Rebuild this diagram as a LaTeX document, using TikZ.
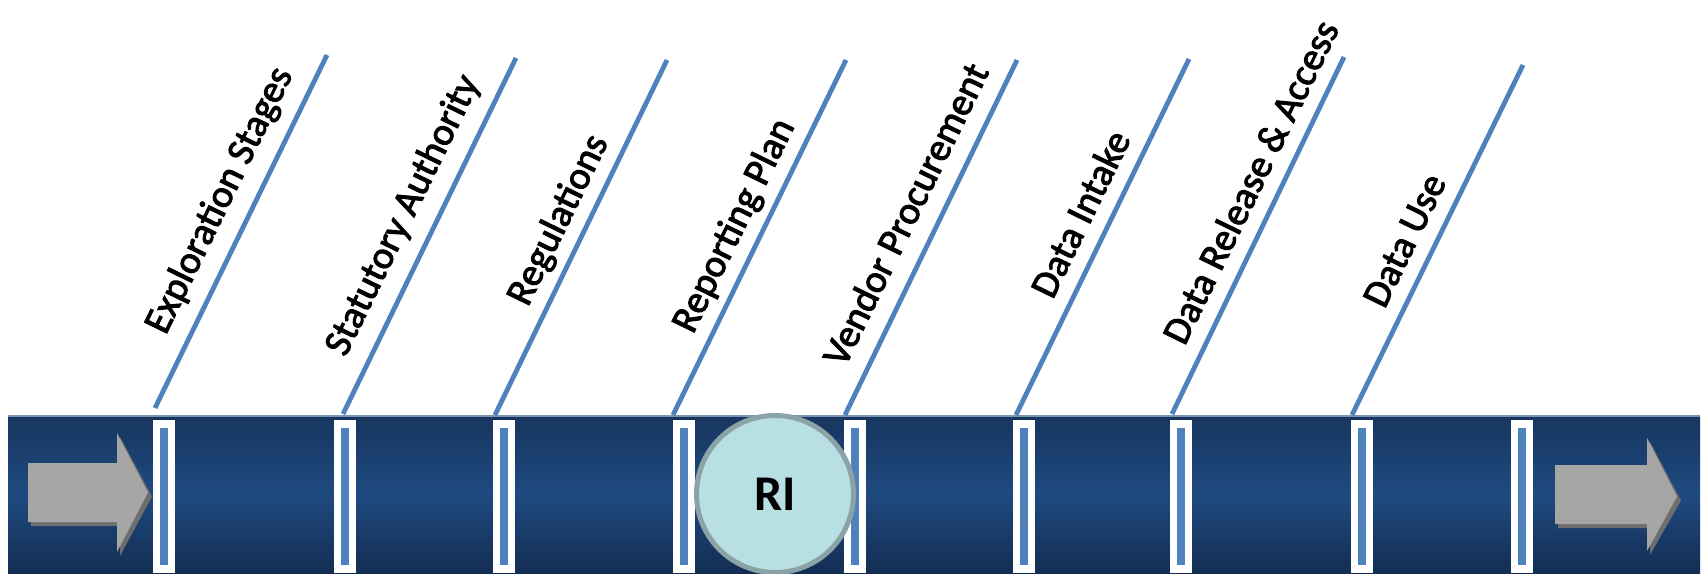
\documentclass[tikz,border=0pt]{standalone}
\usepackage{fontspec}
\setmainfont{Carlito}
\newfontfamily\lblfont[FakeBold=2.5]{Carlito}
\usetikzlibrary{calc}
\definecolor{barmid}{HTML}{1F4A80}
\definecolor{bartop}{HTML}{17365F}
\definecolor{barbot}{HTML}{132D52}
\definecolor{baredge}{HTML}{7D93B3}
\definecolor{stageblue}{HTML}{4F81BD}
\definecolor{arrowgray}{HTML}{A6A6A6}
\definecolor{arrowshadow}{HTML}{6E6E6E}
\definecolor{rifill}{HTML}{B8DFE3}
\definecolor{riborder}{HTML}{8BA3A6}
\begin{document}
\begin{tikzpicture}[x=1pt,y=-1pt,
  stageline/.style={draw=stageblue, line width=4.8pt},
  lbl/.style={font=\lblfont\fontsize{39}{39}\selectfont, anchor=base, rotate=64, inner sep=0pt, text=black},
  sepouter/.style={fill=white, draw=none, rectangle, minimum width=22pt, minimum height=153pt, inner sep=0pt},
  sepinner/.style={fill=stageblue, draw=none, rectangle, minimum width=8pt, minimum height=137pt, inner sep=0pt},
  grayarrow/.style={fill=arrowgray},
  arrowshade/.style={fill=arrowshadow},
  ricircle/.style={circle, fill=rifill, draw=riborder, line width=5pt, minimum size=157pt, inner sep=0pt, font=\fontsize{50}{50}\selectfont\bfseries}
  ]
\useasboundingbox (0,0) rectangle (1704,573);
\fill[white] (0,0) rectangle (1704,573);
% bar
\shade[top color=bartop, bottom color=barbot, middle color=barmid] (8,416) rectangle (1700,573);
\draw[baredge, line width=1.2pt] (8,416) -- (1700,416);
% line end points
\coordinate (l1a) at (155,408); \coordinate (l1b) at (327,55);
\coordinate (l2a) at (343,414); \coordinate (l2b) at (516,58);
\coordinate (l3a) at (495,415); \coordinate (l3b) at (667,60);
\coordinate (l4a) at (673,415); \coordinate (l4b) at (846,60);
\coordinate (l5a) at (845,415); \coordinate (l5b) at (1017,60);
\coordinate (l6a) at (1016,415); \coordinate (l6b) at (1189,59);
\coordinate (l7a) at (1172,414); \coordinate (l7b) at (1344,57);
\coordinate (l8a) at (1352,415); \coordinate (l8b) at (1523,65);
\foreach \i in {1,...,8} { \draw[stageline] (l\i a) -- (l\i b); }
% labels
\node[lbl] (t1) at ($(l1a)!215pt!(l1b)+(-19.8,-9.6)$) {Exploration Stages};
\node[lbl] (t2) at ($(l2a)!205pt!(l2b)+(-19.8,-9.6)$) {Statutory Authority};
\node[lbl] (t3) at ($(l3a)!203pt!(l3b)+(-15.3,-7.5)$) {Regulations};
\node[lbl] (t4) at ($(l4a)!197pt!(l4b)+(-15.3,-7.5)$) {Reporting Plan};
\node[lbl] (t5) at ($(l5a)!207pt!(l5b)+(-18,-8.8)$) {Vendor Procurement};
\node[lbl] (t6) at ($(l6a)!209pt!(l6b)+(-15.3,-7.5)$) {Data Intake};
\node[lbl] (t7) at ($(l7a)!243pt!(l7b)+(-15.3,-7.5)$) {Data Release \& Access};
\node[lbl] (t8) at ($(l8a)!180pt!(l8b)+(-15.3,-7.5)$) {Data Use};
% separators
\foreach \x [count=\k] in {164,345,504,684,854.5,1024,1181.4,1361.6,1522.4} {
  \node[sepouter] (s\k) at (\x,496.5) {};
  \node[sepinner] (si\k) at (\x,496.5) {};
}
% left arrow
\fill[arrowshade] (31,467) -- (120,467) -- (120,437) -- (152,496.5) -- (120,556) -- (120,526) -- (31,526) -- cycle;
\fill[grayarrow] (28,463) -- (117,463) -- (117,433) -- (148,492.5) -- (117,552) -- (117,522) -- (28,522) -- cycle;
% right arrow
\fill[arrowshade] (1558,469) -- (1650,469) -- (1650,442) -- (1681,500.5) -- (1650,555) -- (1650,528) -- (1558,528) -- cycle;
\fill[grayarrow] (1555,465) -- (1647,465) -- (1647,438) -- (1677,496.5) -- (1647,551) -- (1647,524) -- (1555,524) -- cycle;
% RI circle
\node[ricircle] (ri) at (775,494) {RI};
\end{tikzpicture}
\end{document}
